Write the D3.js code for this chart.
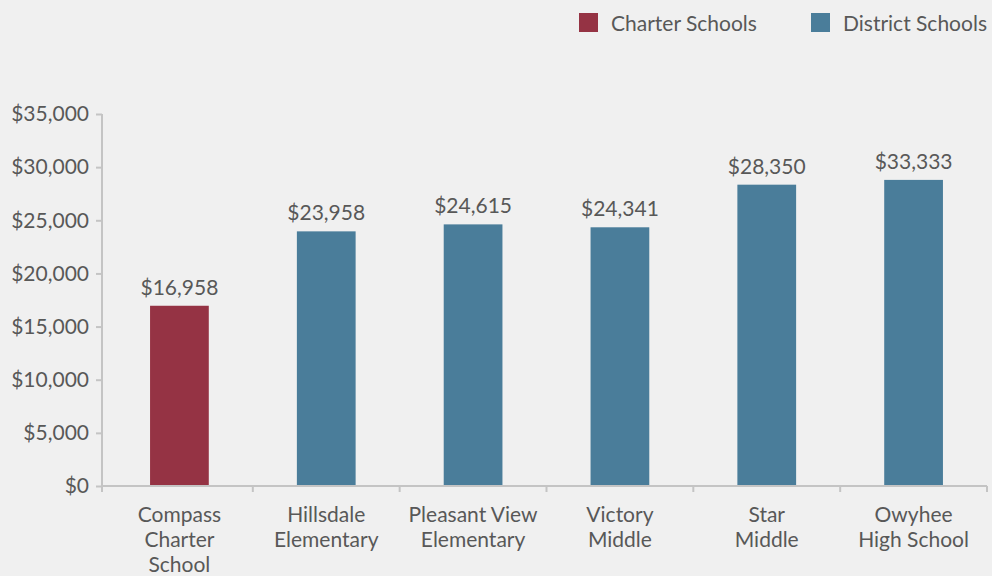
<!DOCTYPE html>
<html>
<head>
<meta charset="utf-8">
<script src="https://cdn.jsdelivr.net/npm/d3@7"></script>
<style>
  html, body { margin: 0; padding: 0; background: #f0f0f0; }
  svg { display: block; font-family: Lato, "Open Sans", sans-serif; }
</style>
</head>
<body>
<svg id="chart" width="992" height="576"></svg>
<script>
// ---- data ----
const categories = ["Compass Charter School", "Hillsdale Elementary", "Pleasant View Elementary", "Victory Middle", "Star Middle", "Owyhee High School"];
const categoryLines = [["Compass", "Charter", "School"], ["Hillsdale", "Elementary"], ["Pleasant View", "Elementary"], ["Victory", "Middle"], ["Star", "Middle"], ["Owyhee", "High School"]];
const schoolTypes = ["Charter Schools", "District Schools", "District Schools", "District Schools", "District Schools", "District Schools"];
const barValues = [16958, 23958, 24615, 24341, 28350, 28800];
const labelValues = [16958, 23958, 24615, 24341, 28350, 33333];
const legendItems = ["Charter Schools", "District Schools"];
const yTicks = [0, 5000, 10000, 15000, 20000, 25000, 30000, 35000];

// ---- layout ----
const mLeft = 102, mRight = 987, mTop = 114, mBottom = 486;
const bandStart = 106;
const textColor = "#585858";
const axisColor = "#c4c4c4";
const fontSize = "21px";
const color = d3.scaleOrdinal().domain(legendItems).range(["#953344", "#4a7d9a"]);

const svg = d3.select("#chart");

const x = d3.scaleBand().domain(categories).range([bandStart, mRight]).paddingInner(0.6).paddingOuter(0.3);
const y = d3.scaleLinear().domain([0, 35000]).range([mBottom, mTop]);
const fmt = v => "$" + d3.format(",")(v);

// y axis
const yAxis = svg.append("g").attr("transform", `translate(${mLeft},0)`)
  .call(d3.axisLeft(y).tickValues(yTicks).tickFormat(fmt).tickSize(6).tickPadding(7));
yAxis.select(".domain").attr("stroke", axisColor).attr("stroke-width", 2).attr("d", `M0,${mTop}V${mBottom}`);
yAxis.selectAll(".tick line").attr("stroke", axisColor).attr("stroke-width", 2);
yAxis.selectAll(".tick text").attr("fill", textColor).style("font-size", fontSize).style("font-family", "Lato");

// x axis line with ticks at band boundaries
const step = x.step();
const boundaries = categories.map(c => x(c) - step * x.paddingInner() / 2);
boundaries.push(x(categories[categories.length - 1]) + x.bandwidth() + step * x.paddingInner() / 2);
boundaries[0] = mLeft;
const xg = svg.append("g");
xg.append("line").attr("x1", mLeft).attr("x2", mRight).attr("y1", mBottom).attr("y2", mBottom)
  .attr("stroke", axisColor).attr("stroke-width", 2);
xg.selectAll("line.tk").data(boundaries).join("line").attr("class", "tk")
  .attr("x1", d => d).attr("x2", d => d).attr("y1", mBottom).attr("y2", mBottom + 6)
  .attr("stroke", axisColor).attr("stroke-width", 2);

// category labels
const catG = svg.append("g");
categories.forEach((c, i) => {
  const cx = x(c) + x.bandwidth() / 2;
  const t = catG.append("text").attr("x", cx).attr("y", 522)
    .attr("text-anchor", "middle").attr("fill", textColor).style("font-size", fontSize);
  categoryLines[i].forEach((ln, j) => {
    t.append("tspan").attr("x", cx).attr("dy", j === 0 ? 0 : 25).text(ln);
  });
});

// bars
svg.append("g").selectAll("rect").data(categories).join("rect")
  .attr("x", d => x(d))
  .attr("width", x.bandwidth())
  .attr("y", (d, i) => y(barValues[i]))
  .attr("height", (d, i) => y(0) - y(barValues[i]) - 1)
  .attr("fill", (d, i) => color(schoolTypes[i]));

// value labels
svg.append("g").selectAll("text").data(categories).join("text")
  .attr("x", d => x(d) + x.bandwidth() / 2)
  .attr("y", (d, i) => y(barValues[i]) - 11)
  .attr("text-anchor", "middle").attr("fill", textColor).style("font-size", fontSize)
  .text((d, i) => fmt(labelValues[i]));

// legend
const legendX = [579, 811];
const lg = svg.append("g");
legendItems.forEach((name, i) => {
  lg.append("rect").attr("x", legendX[i]).attr("y", 13).attr("width", 19).attr("height", 19).attr("fill", color(name));
  lg.append("text").attr("x", legendX[i] + 32).attr("y", 31).attr("fill", textColor).style("font-size", fontSize).text(name);
});
</script>
</body>
</html>
